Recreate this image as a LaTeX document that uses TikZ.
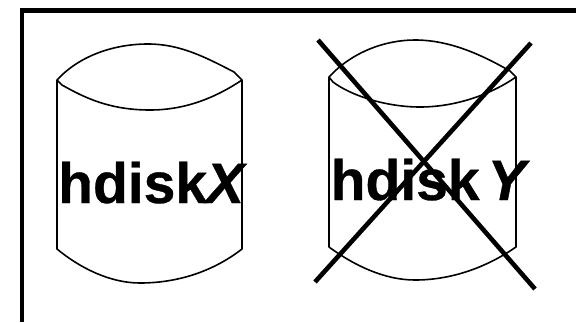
\documentclass[tikz,border=0pt]{standalone}
\usepackage{fontspec}
\setmainfont[BoldFeatures={FakeBold=0.6},BoldItalicFeatures={FakeBold=0.6}]{Liberation Sans}
\tikzset{
  frameline/.style={line width=4.8pt,line cap=butt,black},
  disk/.style={line width=1.6pt,black,line join=round},
  cross/.style={line width=4.6pt,line cap=butt,black},
  disklabel/.style={inner sep=0pt,anchor=base west,font=\fontsize{57pt}{57pt}\selectfont\bfseries}
}
\begin{document}
\begin{tikzpicture}[x=1pt,y=-1pt]
\useasboundingbox (0,0) rectangle (576,322);
\fill[white] (0,0) rectangle (576,322);
\coordinate (fa) at (22,322);
\coordinate (fb) at (22,10.8);
\coordinate (fc) at (576,10.8);
\draw[frameline] (fa) -- (fb) -- (fc);
% disk X
\draw[disk] (57,80) .. controls (80,55) and (115,44) .. (148,44)
   .. controls (180,44) and (205,57) .. (234,72) -- (242,80)
   .. controls (215,98) and (185,110) .. (150,110)
   .. controls (110,110) and (85,98) .. (62,85) -- (57,80) -- (57,249)
   .. controls (80,268) and (110,283) .. (140,283)
   .. controls (180,283) and (215,270) .. (242,249) -- (242,80);
\node[disklabel] (hx) at (58,203) {hdisk\hspace{-1pt}\textit{X}};
% disk Y
\draw[disk] (329,77) .. controls (352,52) and (385,40) .. (415,40)
   .. controls (450,40) and (482,55) .. (510,71) -- (516,77)
   .. controls (490,95) and (455,107) .. (420,107)
   .. controls (385,107) and (350,95) .. (333,82) -- (329,77) -- (329,247)
   .. controls (355,266) and (385,280) .. (415,280)
   .. controls (455,280) and (490,265) .. (516,247) -- (516,77);
\node[disklabel] (hy) at (330.5,200) {hdisk\hspace{8pt}\textit{Y}};
% cross
\coordinate (ca) at (318,40);
\coordinate (cb) at (535,289);
\coordinate (cc) at (315,282);
\coordinate (cd) at (531,43);
\draw[cross] (ca) -- (cb);
\draw[cross] (cc) -- (cd);
\end{tikzpicture}
\end{document}
